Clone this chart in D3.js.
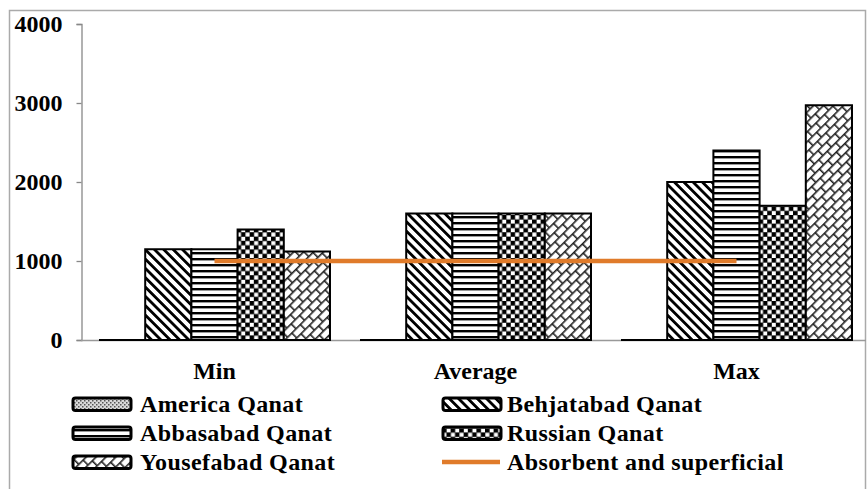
<!DOCTYPE html>
<html>
<head>
<meta charset="utf-8">
<script src="https://cdn.jsdelivr.net/npm/d3@7"></script>
<style>
  html, body { margin: 0; padding: 0; background: #fff; }
  svg { display: block; }
  text { font-family: "Liberation Serif", "Times New Roman", serif; font-weight: bold; fill: #000; }
</style>
</head>
<body>
<svg id="chart" width="867" height="489"></svg>
<script>
// Categories and qanat series (values in the chart's units)
const categories = ["Min", "Average", "Max"];
const seriesNames = ["America Qanat", "Behjatabad Qanat", "Abbasabad Qanat", "Russian Qanat", "Yousefabad Qanat"];
const americaValues    = [0, 0, 0];
const behjatabadValues = [1150, 1600, 2000];
const abbasabadValues  = [1150, 1600, 2400];
const russianValues    = [1400, 1600, 1700];
const yousefabadValues = [1120, 1600, 2970];
const absorbentValues  = [1000, 1000, 1000];
const lineName = "Absorbent and superficial";
const yTicks = [0, 1000, 2000, 3000, 4000];

const seriesValues = [americaValues, behjatabadValues, abbasabadValues, russianValues, yousefabadValues];
const patternIds = ["pAmerica", "pBehjat", "pAbbas", "pRussian", "pYousef"];

const svg = d3.select("#chart");
const defs = svg.append("defs");

// --- fill patterns ---
// America: fine dotted grey
let p = defs.append("pattern").attr("id", "pAmerica").attr("patternUnits", "userSpaceOnUse").attr("width", 4).attr("height", 4);
p.append("rect").attr("width", 4).attr("height", 4).attr("fill", "#d8d8d8");
p.append("rect").attr("x", 0).attr("y", 0).attr("width", 1.5).attr("height", 1.5).attr("fill", "#555");
p.append("rect").attr("x", 2).attr("y", 2).attr("width", 1.5).attr("height", 1.5).attr("fill", "#555");

// Behjatabad: backslash diagonal stripes
p = defs.append("pattern").attr("id", "pBehjat").attr("patternUnits", "userSpaceOnUse")
  .attr("width", 6.6).attr("height", 6.6).attr("patternTransform", "rotate(-45)");
p.append("rect").attr("width", 6.6).attr("height", 6.6).attr("fill", "#fff");
p.append("rect").attr("x", 0).attr("y", 0).attr("width", 2.8).attr("height", 6.6).attr("fill", "#000");

// Abbasabad: horizontal stripes
p = defs.append("pattern").attr("id", "pAbbas").attr("patternUnits", "userSpaceOnUse").attr("width", 6).attr("height", 6);
p.append("rect").attr("width", 6).attr("height", 6).attr("fill", "#fff");
p.append("rect").attr("x", 0).attr("y", 0).attr("width", 6).attr("height", 2.4).attr("fill", "#000");

// Russian: checkerboard
p = defs.append("pattern").attr("id", "pRussian").attr("patternUnits", "userSpaceOnUse").attr("width", 8.6).attr("height", 8.6);
p.append("rect").attr("width", 8.6).attr("height", 8.6).attr("fill", "#000");
p.append("rect").attr("x", 0.3).attr("y", 0.3).attr("width", 4.1).attr("height", 4.1).attr("fill", "#fff");
p.append("rect").attr("x", 4.6).attr("y", 4.6).attr("width", 4.1).attr("height", 4.1).attr("fill", "#fff");

// Yousefabad: diagonal brick weave along "/"
p = defs.append("pattern").attr("id", "pYousef").attr("patternUnits", "userSpaceOnUse")
  .attr("width", 12).attr("height", 14).attr("patternTransform", "rotate(-45)");
p.append("rect").attr("width", 12).attr("height", 14).attr("fill", "#fff");
p.append("rect").attr("x", 0).attr("y", 0).attr("width", 12).attr("height", 1.6).attr("fill", "#222");
p.append("rect").attr("x", 0).attr("y", 7).attr("width", 12).attr("height", 1.6).attr("fill", "#222");
p.append("rect").attr("x", 2).attr("y", 0).attr("width", 1.6).attr("height", 7).attr("fill", "#222");
p.append("rect").attr("x", 8).attr("y", 7).attr("width", 1.6).attr("height", 7).attr("fill", "#222");

// --- frame ---
svg.append("path").attr("d", "M9.5,489 V10.5 H865.5 V489")
  .attr("fill", "none").attr("stroke", "#aaa").attr("stroke-width", 1.5);

// --- scales ---
const y = d3.scaleLinear().domain([0, 4000]).range([340, 24]);
const x0 = d3.scaleBand().domain(categories).range([84, 867]).paddingInner(0.115).paddingOuter(0.0575);
const x1 = d3.scaleBand().domain(seriesNames).range([0, x0.bandwidth()]).padding(0);

// --- y axis ---
const yAxis = d3.axisLeft(y).tickValues(yTicks).tickSize(5).tickPadding(14).tickFormat(d3.format("d"));
const gy = svg.append("g").attr("transform", "translate(81.5,0)").call(yAxis);
gy.select(".domain").attr("stroke", "#888").attr("stroke-width", 1.3);
gy.selectAll(".tick line").attr("stroke", "#888").attr("stroke-width", 1.3);
gy.selectAll(".tick text").style("font-family", "Liberation Serif").style("font-weight", "bold")
  .style("font-size", "24px").attr("fill", "#000");

// --- x axis baseline ---
svg.append("line").attr("x1", 81).attr("x2", 866).attr("y1", 340.5).attr("y2", 340.5)
  .attr("stroke", "#999").attr("stroke-width", 1.5);

// --- bars ---
const groups = svg.append("g").selectAll("g").data(categories).join("g")
  .attr("transform", d => `translate(${x0(d)},0)`);

groups.selectAll("path").data((c, ci) => seriesNames.map((s, si) => ({ s, si, v: seriesValues[si][ci] })))
  .join("path")
  .attr("d", d => {
    const xa = x1(d.s), w = x1.bandwidth();
    return `M${xa},${y(0)} V${y(d.v)} H${xa + w} V${y(0)} Z`;
  })
  .attr("fill", d => `url(#${patternIds[d.si]})`)
  .attr("stroke", "#000").attr("stroke-width", 2).attr("stroke-linejoin", "miter");

// --- threshold line ---
const line = d3.line().x((d, i) => x0(categories[i]) + x0.bandwidth() / 2).y(d => y(d));
svg.append("path").datum(absorbentValues).attr("d", line)
  .attr("fill", "none").attr("stroke", "#E07B2A").attr("stroke-width", 4.5);

// --- category labels ---
svg.append("g").selectAll("text").data(categories).join("text")
  .attr("x", d => x0(d) + x0.bandwidth() / 2).attr("y", 379)
  .attr("text-anchor", "middle").style("font-size", "24px").text(d => d);

// --- legend ---
const legendItems = [
  { name: seriesNames[0], pat: patternIds[0], col: 0, row: 0 },
  { name: seriesNames[1], pat: patternIds[1], col: 1, row: 0 },
  { name: seriesNames[2], pat: patternIds[2], col: 0, row: 1 },
  { name: seriesNames[3], pat: patternIds[3], col: 1, row: 1 },
  { name: seriesNames[4], pat: patternIds[4], col: 0, row: 2 },
  { name: lineName, pat: null, col: 1, row: 2 }
];
const colX = [72, 442];
const rowY = [412, 441, 470];
const lg = svg.append("g").selectAll("g").data(legendItems).join("g")
  .attr("transform", d => `translate(${colX[d.col]},${rowY[d.row]})`);
lg.filter(d => d.pat).append("rect")
  .attr("x", 1).attr("y", -14).attr("width", 58).attr("height", 12.5).attr("rx", 2.5)
  .attr("fill", d => `url(#${d.pat})`).attr("stroke", "#000").attr("stroke-width", 3);
lg.filter(d => !d.pat).append("line")
  .attr("x1", 0).attr("x2", 58).attr("y1", -8).attr("y2", -8)
  .attr("stroke", "#E07B2A").attr("stroke-width", 4.5);
lg.append("text").attr("x", d => d.col === 0 ? 68 : 65).attr("y", 0)
  .style("font-size", "24px").style("letter-spacing", "0.4px").text(d => d.name);
</script>
</body>
</html>
